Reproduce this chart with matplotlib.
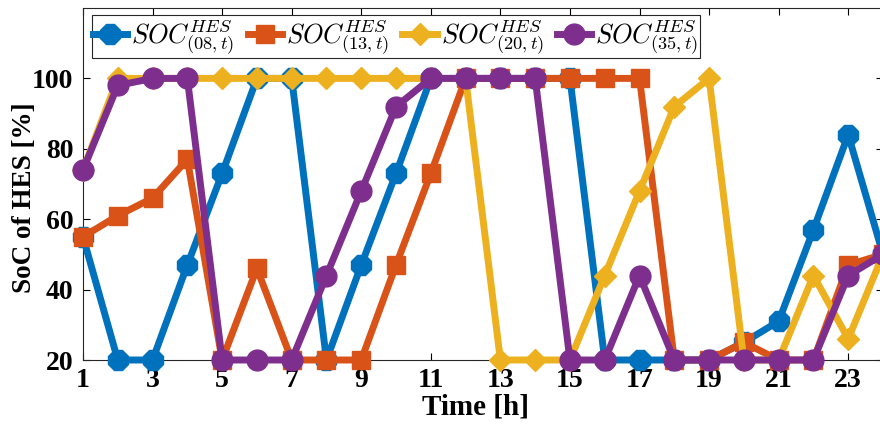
import matplotlib
matplotlib.use("Agg")
import matplotlib.pyplot as plt

hours = list(range(1, 25))
soc_08 = [55, 20, 20, 47, 73, 100, 100, 20, 47, 73, 100, 100, 100, 100, 100, 20, 20, 20, 20, 25, 31, 57, 84, 50]
soc_13 = [55, 61, 66, 77, 20, 46, 20, 20, 20, 47, 73, 100, 100, 100, 100, 100, 100, 20, 20, 25, 20, 20, 47, 50]
soc_20 = [74, 100, 100, 100, 100, 100, 100, 100, 100, 100, 100, 100, 20, 20, 20, 44, 68, 92, 100, 20, 20, 44, 26, 50]
soc_35 = [74, 98, 100, 100, 20, 20, 20, 44, 68, 92, 100, 100, 100, 100, 20, 20, 44, 20, 20, 20, 20, 20, 44, 50]
labels = [r"$SOC^{HES}_{(08,t)}$", r"$SOC^{HES}_{(13,t)}$",
          r"$SOC^{HES}_{(20,t)}$", r"$SOC^{HES}_{(35,t)}$"]
xticks = list(range(1, 24, 2))
yticks = [20, 40, 60, 80, 100]

plt.rcParams['font.family'] = ['Liberation Serif', 'DejaVu Serif']
plt.rcParams['font.weight'] = 'bold'
plt.rcParams['mathtext.fontset'] = 'cm'

fig = plt.figure(figsize=(8.8, 4.25), dpi=100)
ax = fig.add_axes([83/880, 65/425, 800/880, 352/425])

colors = ['#0072BD', '#D95319', '#EDB120', '#7E2F8E']
markers = ['8', 's', 'D', 'o']
msizes = [15, 13, 11, 15]
series = [soc_08, soc_13, soc_20, soc_35]
for s, c, m, ms, lab in zip(series, colors, markers, msizes, labels):
    ax.plot(hours, s, color=c, marker=m, markersize=ms, linewidth=5,
            label=lab, clip_on=False, zorder=3)

ax.set_xlim(1, 24)
ax.set_ylim(20, 120)
ax.set_xticks(xticks)
ax.set_yticks(yticks)
ax.tick_params(direction='in', top=True, right=True, length=5, width=0.8,
               labelsize=20)
ax.tick_params(axis='x', pad=6)
ax.tick_params(axis='y', pad=7)
for lab in ax.get_xticklabels() + ax.get_yticklabels():
    lab.set_fontweight('bold')
for sp in ax.spines.values():
    sp.set_linewidth(0.8)
    sp.set_color('#262626')
ax.set_xlabel('Time [h]', fontsize=21, fontweight='bold')
ax.xaxis.set_label_coords(0.49, -0.095)
ax.set_ylabel('SoC of HES [%]', fontsize=19.5, fontweight='bold')
ax.yaxis.set_label_coords(-0.058, 0.46)

leg = ax.legend(loc='upper left', ncol=4, fontsize=19, frameon=True,
                fancybox=False, edgecolor='#262626', framealpha=1,
                handlelength=1.3, handletextpad=0.15, columnspacing=0.5,
                borderpad=0.05, bbox_to_anchor=(0.011, 0.98), borderaxespad=0)
leg.get_frame().set_linewidth(0.8)

fig.savefig('out.png', dpi=100)
